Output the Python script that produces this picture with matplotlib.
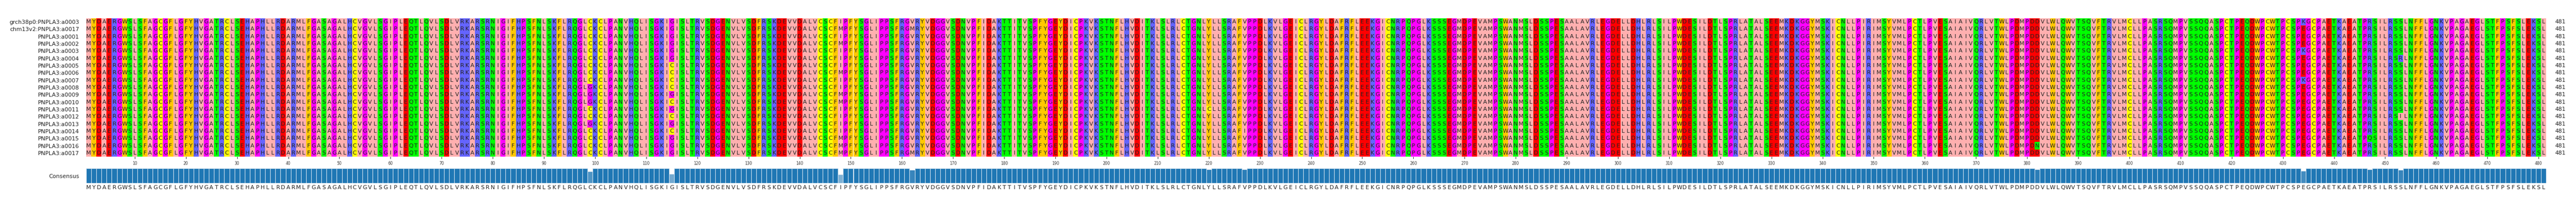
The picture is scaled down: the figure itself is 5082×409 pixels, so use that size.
import matplotlib
matplotlib.use("Agg")
import matplotlib.pyplot as plt
from matplotlib.patches import Rectangle
import numpy as np
from collections import Counter

names = ["grch38p0:PNPLA3:a0003", "chm13v2:PNPLA3:a0017"] + ["PNPLA3:a%04d" % i for i in range(1, 18)]

reference = ("MYDAERGWSLSFAGCGFLGFYHVGATRCLSEHAPHLLRDARMLFGASAGALHCVGVLSGIPLEQTLQVLSDLVRKARSRNIGIFHPSFNLSKFLRQGLCKCLPANVH"
             "QLISGKIGISLTRVSDGENVLVSDFRSKDEVVDALVCSCFIPFYSGLIPPSFRGVRYVDGGVSDNVPFIDAKTTITVSPFYGEYDICPKVKSTNFLHVDITKLSL"
             "RLCTGNLYLLSRAFVPPDLKVLGEICLRGYLDAFRFLEEKGICNRPQPGLKSSSEGMDPEVAMPSWANMSLDSSPESAALAVRLEGDELLDHLRLSILPWDESILD"
             "TLSPRLATALSEEMKDKGGYMSKICNLLPIRIMSYVMLPCTLPVESAIAIVQRLVTWLPDMPDDVLWLQWVTSQVFTRVLMCLLPASRSQMPVSSQQASPCTPEQDW"
             "PCWTPCSPEGCPAETKAEATPRSILRSSLNFFLGNKVPAGAEGLSTFPSFSLEKSL")

# variants: (position 1-based, row index, residue)
var_pos = [99, 99, 99, 99,
           115, 115, 115, 115, 115, 115, 115,
           148, 148, 148, 148, 148, 148, 148, 148,
           162, 162, 220, 227, 382, 434, 434, 434, 447, 453, 453]
var_row = [9, 10, 11, 14,
           6, 7, 8, 9, 11, 13, 15,
           1, 3, 7, 10, 11, 16, 17, 18,
           1, 18, 12, 15, 17, 0, 4, 8, 16, 5, 13]
var_res = ["G", "G", "G", "G",
           "C", "C", "C", "C", "C", "C", "C",
           "M", "M", "M", "M", "M", "M", "M", "M",
           "M", "M", "C", "I", "N", "K", "K", "K", "Q", "R", "I"]

seqs = [list(reference) for _ in names]
for p, r, a in zip(var_pos, var_row, var_res):
    seqs[r][p - 1] = a

zappo = {}
for a in "ILVAM": zappo[a] = "#ffafaf"
for a in "FWY": zappo[a] = "#ffc800"
for a in "KRH": zappo[a] = "#6464ff"
for a in "DE": zappo[a] = "#ff0000"
for a in "STNQ": zappo[a] = "#00ff00"
for a in "GP": zappo[a] = "#ff00ff"
zappo["C"] = "#ffff00"

L = len(reference)
n = len(names)
W, H = 5082, 409
fig = plt.figure(figsize=(W / 100, H / 100), dpi=100)
x0 = 170 / W
wd = (L * 10.09) / W
ax = fig.add_axes([x0, 1 - 308 / H, wd, (308 - 36) / H])
for r in range(n):
    for i in range(L):
        a = seqs[r][i]
        ax.add_patch(Rectangle((i + 0.5, r - 0.5), 1, 1, color=zappo.get(a, "white"), lw=0))
        ax.text(i + 1, r, a, ha="center", va="center", fontsize=8, color="#222222")
ax.set_xlim(0.5, L + 0.5)
ax.set_ylim(n - 0.5, -0.5)
ax.set_yticks(range(n))
ax.set_yticklabels(names, fontsize=8, color="#222222")
ax.tick_params(axis="y", length=0, pad=10)
ax.set_xticks(range(10, L + 1, 10))
ax.tick_params(axis="x", labelsize=5.5, length=3, colors="#333333")
for s in ax.spines.values():
    s.set_visible(False)
for r in range(n):
    ax.text(L + 2.2, r, str(L), ha="left", va="center", fontsize=8, color="#222222")

# consensus
cons, frac = [], []
for i in range(L):
    c = Counter(seqs[r][i] for r in range(n))
    a, k = c.most_common(1)[0]
    cons.append(a)
    frac.append(k / n)
frac = np.array(frac)
base = np.array([0x1f, 0x77, 0xb4]) / 255
cols = [tuple(1 - f * (1 - base)) for f in frac]
axc = fig.add_axes([x0, 1 - 360 / H, wd, 29 / H])
axc.bar(np.arange(1, L + 1), frac, width=1.0, color=cols, edgecolor="#cfe0ee", linewidth=0.8)
axc.set_xlim(0.5, L + 0.5)
axc.set_ylim(0, 1)
axc.set_xticks([])
axc.set_yticks([0.5])
axc.set_yticklabels(["Consensus"], fontsize=8, color="#222222")
axc.tick_params(axis="y", length=0, pad=10)
for s in axc.spines.values():
    s.set_visible(False)
for i, a in enumerate(cons):
    axc.text(i + 1, -0.32, a, ha="center", va="center", fontsize=8, color="#222222")

fig.savefig("out.png", dpi=100)
